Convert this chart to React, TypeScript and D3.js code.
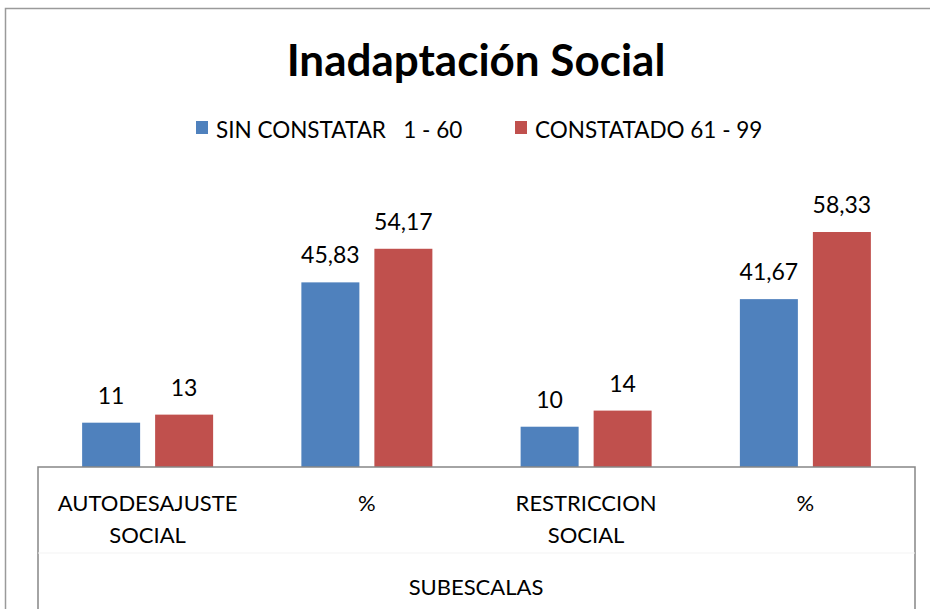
import React from 'react'
import * as d3 from 'd3'

const categories = [['AUTODESAJUSTE', 'SOCIAL'], ['%'], ['RESTRICCION', 'SOCIAL'], ['%']]
const seriesNames = ['SIN CONSTATAR   1 - 60', 'CONSTATADO 61 - 99']
const sinConstatar = [11, 45.83, 10, 41.67]
const constatado = [13, 54.17, 14, 58.33]
const colors = ['#4F81BD', '#C0504D']
const axisTitle = 'SUBESCALAS'
const title = 'Inadaptación Social'

const W = 930
const H = 609
const FONT = 'Lato, "Open Sans", sans-serif'

export default function App() {
  const left = 38
  const right = 915
  const baseY = 467
  const topY = 185

  const x0 = d3.scaleBand<number>()
    .domain(d3.range(categories.length))
    .range([left, right])
  // two bars of ~58px with a 15px gap, centred in each category
  const groupW = 131
  const x1 = d3.scaleBand<number>()
    .domain([0, 1])
    .range([(x0.bandwidth() - groupW) / 2, (x0.bandwidth() + groupW) / 2])
    .paddingInner(15 / 73)
  const y = d3.scaleLinear().domain([0, 70]).range([baseY, topY])

  const series = [sinConstatar, constatado]
  const fmt = (v: number) => String(v).replace('.', ',')

  return (
    <svg width={W} height={H} style={{ position: 'absolute', left: 0, top: 0, background: '#fff' }}>
      {/* outer chart frame */}
      <path d={`M5.5,${H}V8.5H${W}`} fill="none" stroke="#9a9a9a" strokeWidth={1.5} />

      <text x={476} y={76} textAnchor="middle" fontFamily={FONT} fontWeight="bold" fontSize={44} fill="#000">
        {title}
      </text>

      {/* legend */}
      {[{ x: 196, t: 216 }, { x: 515, t: 535 }].map((p, i) => (
        <g key={i}>
          <rect x={p.x} y={121} width={12} height={13} fill={colors[i]} />
          <text x={p.t} y={138} fontFamily={FONT} fontSize={22.5} fill="#000" style={{ whiteSpace: 'pre' }}>
            {seriesNames[i]}
          </text>
        </g>
      ))}

      {/* bars */}
      {series.map((vals, si) =>
        vals.map((v, ci) => {
          const bx = (x0(ci) as number) + (x1(si) as number)
          return (
            <g key={`${si}-${ci}`}>
              <rect x={bx} y={y(v)} width={x1.bandwidth()} height={baseY - y(v)} fill={colors[si]} />
              <text x={bx + x1.bandwidth() / 2} y={y(v) - 19} textAnchor="middle" fontFamily={FONT} fontSize={23} fill="#000">
                {fmt(v)}
              </text>
            </g>
          )
        })
      )}

      {/* category axis box */}
      <path d={`M${left},${H}V${baseY}H${right}V${H}`} fill="none" stroke="#868686" strokeWidth={1.5} />
      <line x1={left} x2={right} y1={553} y2={553} stroke="#f3f3f3" strokeWidth={1} />

      {categories.map((lines, ci) => (
        <text key={ci} textAnchor="middle" fontFamily={FONT} fontSize={22} fill="#000">
          {lines.map((l, li) => (
            <tspan key={li} x={(x0(ci) as number) + x0.bandwidth() / 2} y={511 + li * 32}>{l}</tspan>
          ))}
        </text>
      ))}

      <text x={476} y={595} textAnchor="middle" fontFamily={FONT} fontSize={22} fill="#000">
        {axisTitle}
      </text>
    </svg>
  )
}
